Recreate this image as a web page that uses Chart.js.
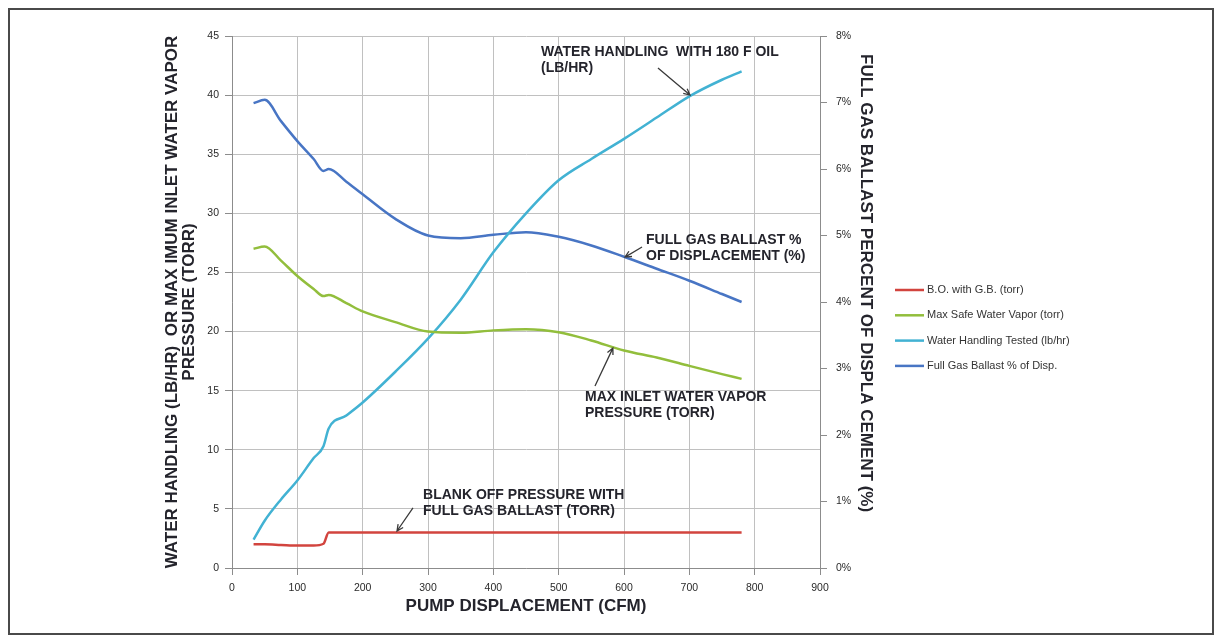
<!DOCTYPE html>
<html lang="en">
<head>
  <meta charset="UTF-8" />
  <title>Pump displacement - water handling</title>
  <script src="https://cdn.jsdelivr.net/npm/chart.js"></script>
  <style>
    html, body { margin: 0; padding: 0; background: #fff; }
    #wrap { position: relative; width: 1221px; height: 641px; }
    #frame { position: absolute; left: 8px; top: 8px; width: 1202px; height: 623px;
             border: 2px solid #4a4a4a; pointer-events: none; }
    canvas { display: block; }
  </style>
</head>
<body>
  <div id="wrap">
    <canvas id="chart" width="1221" height="641"></canvas>
    <div id="frame"></div>
  </div>

  <script>
    // pump displacement (CFM) where the curves were read
    const displacement = [33, 50, 75, 100, 125, 140, 148, 175, 200, 250, 300, 350, 400, 450, 500, 550, 600, 650, 700, 750, 780];
    // torr
    const boWithGb     = [2.0, 2.0, 1.95, 1.9, 1.9, 2.05, 3.0, 3.0, 3.0, 3.0, 3.0, 3.0, 3.0, 3.0, 3.0, 3.0, 3.0, 3.0, 3.0, 3.0, 3.0];
    const maxSafeVapor = [27.0, 27.2, 26.0, 24.7, 23.6, 23.0, 23.1, 22.4, 21.7, 20.8, 20.0, 19.9, 20.1, 20.2, 19.95, 19.25, 18.4, 17.8, 17.1, 16.4, 16.0];
    // lb/hr
    const waterHandling = [2.4, 4.0, 5.8, 7.4, 9.3, 10.3, 11.8, 12.9, 14.0, 16.6, 19.4, 22.7, 26.7, 30.0, 32.8, 34.6, 36.3, 38.1, 39.9, 41.3, 42.0];
    // % of displacement (right axis)
    const gasBallastPct = [6.99, 7.04, 6.72, 6.42, 6.15, 5.97, 6.0, 5.81, 5.62, 5.25, 5.0, 4.96, 5.01, 5.05, 4.98, 4.85, 4.68, 4.5, 4.32, 4.12, 4.0];

    const seriesNames = ['B.O. with G.B. (torr)', 'Max Safe Water Vapor (torr)', 'Water Handling Tested (lb/hr)', 'Full Gas Ballast % of Disp.'];

    // callouts, in data units of x and left y
    const notes = [
      { lines: ['WATER HANDLING  WITH 180 F OIL', '(LB/HR)'], at: [473, 43.65], from: [652, 42.3], to: [701, 40.0] },
      { lines: ['FULL GAS BALLAST %', 'OF DISPLACEMENT (%)'], at: [633.7, 27.75], from: [627.6, 27.15], to: [601.6, 26.3] },
      { lines: ['MAX INLET WATER VAPOR', 'PRESSURE (TORR)'], at: [540.3, 14.46], from: [555.6, 15.4], to: [583, 18.6] },
      { lines: ['BLANK OFF PRESSURE WITH', 'FULL GAS BALLAST (TORR)'], at: [292.4, 6.17], from: [277, 5.08], to: [252.6, 3.13] }
    ];

    const FONT = '"Liberation Sans", Arial, sans-serif';

    function pairs(ys) {
      return displacement.map((x, i) => ({ x, y: ys[i] }));
    }

    function arrow(ctx, x1, y1, x2, y2) {
      const a = Math.atan2(y2 - y1, x2 - x1);
      const h = 7;
      ctx.beginPath();
      ctx.moveTo(x1, y1);
      ctx.lineTo(x2, y2);
      ctx.moveTo(x2 - h * Math.cos(a - 0.45), y2 - h * Math.sin(a - 0.45));
      ctx.lineTo(x2, y2);
      ctx.lineTo(x2 - h * Math.cos(a + 0.45), y2 - h * Math.sin(a + 0.45));
      ctx.stroke();
    }

    const extras = {
      id: 'extras',
      afterDraw(chart) {
        const { ctx, scales: { x, y } } = chart;
        ctx.save();
        ctx.font = 'bold 14px ' + FONT;
        ctx.fillStyle = '#24242c';
        ctx.strokeStyle = '#3a3a3a';
        ctx.lineWidth = 1.3;
        ctx.textBaseline = 'middle';
        notes.forEach(n => {
          const px = x.getPixelForValue(n.at[0]);
          const py = y.getPixelForValue(n.at[1]);
          n.lines.forEach((t, i) => ctx.fillText(t, px, py + i * 16));
          arrow(ctx,
            x.getPixelForValue(n.from[0]), y.getPixelForValue(n.from[1]),
            x.getPixelForValue(n.to[0]), y.getPixelForValue(n.to[1]));
        });

        // legend
        ctx.font = '11px ' + FONT;
        ctx.fillStyle = '#333';
        ctx.lineWidth = 2.5;
        chart.data.datasets.forEach((ds, i) => {
          const ly = 290 + i * 25.3;
          ctx.strokeStyle = ds.borderColor;
          ctx.beginPath();
          ctx.moveTo(895, ly);
          ctx.lineTo(924, ly);
          ctx.stroke();
          ctx.fillText(ds.label, 927, ly);
        });
        ctx.restore();
      }
    };

    function line(label, ys, color, axis) {
      return {
        label, data: pairs(ys), yAxisID: axis,
        borderColor: color, backgroundColor: color,
        borderWidth: 2.5, pointRadius: 0,
        cubicInterpolationMode: 'monotone', fill: false
      };
    }

    const axisGrey = '#8c8c8c';
    const tickFont = { family: FONT, size: 10.5 };
    const titleFont = { family: FONT, size: 17, weight: 'bold', lineHeight: 1 };

    new Chart(document.getElementById('chart'), {
      type: 'line',
      data: {
        datasets: [
          line(seriesNames[0], boWithGb, '#d2443e', 'y'),
          line(seriesNames[1], maxSafeVapor, '#92be3c', 'y'),
          line(seriesNames[2], waterHandling, '#42b2d3', 'y'),
          line(seriesNames[3], gasBallastPct, '#4875c4', 'y1')
        ]
      },
      options: {
        responsive: false,
        animation: false,
        devicePixelRatio: 1,
        layout: { padding: { left: 0, top: 36, right: 341, bottom: 0 } },
        plugins: { legend: { display: false }, tooltip: { enabled: false } },
        scales: {
          x: {
            type: 'linear', min: 0, max: 900,
            ticks: { stepSize: 100, font: tickFont, color: '#2a2a2a', padding: 7, maxRotation: 0 },
            grid: { color: '#c0c0c0', tickColor: axisGrey, tickLength: 7 },
            border: { color: axisGrey },
            title: { display: true, text: 'PUMP DISPLACEMENT (CFM)', color: '#24242c',
                     font: titleFont, padding: { top: 0, bottom: 26.5 } },
            afterFit: s => { s.height = 73; }
          },
          y: {
            position: 'left', min: 0, max: 45,
            ticks: { stepSize: 5, font: tickFont, color: '#2a2a2a', padding: 6 },
            grid: { color: '#c0c0c0', tickColor: axisGrey, tickLength: 7 },
            border: { color: axisGrey },
            title: { display: true, text: ['WATER HANDLING (LB/HR)  OR MAX IMUM INLET WATER VAPOR', 'PRESSURE (TORR)'],
                     color: '#24242c', font: titleFont,
                     padding: { top: 163.5, bottom: 0 } },
            afterFit: s => { s.width = 232; }
          },
          y1: {
            position: 'right', min: 0, max: 8,
            ticks: { stepSize: 1, font: tickFont, color: '#2a2a2a', padding: 9, callback: v => v + '%' },
            grid: { drawOnChartArea: false, tickColor: axisGrey, tickLength: 7 },
            border: { color: axisGrey },
            title: { display: true, text: 'FULL GAS BALLAST PERCENT OF DISPLA CEMENT (%)        ',
                     color: '#24242c', font: titleFont,
                     padding: { top: 5.5, bottom: 0 } },
            afterFit: s => { s.width = 60; }
          }
        }
      },
      plugins: [extras]
    });
  </script>
</body>
</html>
